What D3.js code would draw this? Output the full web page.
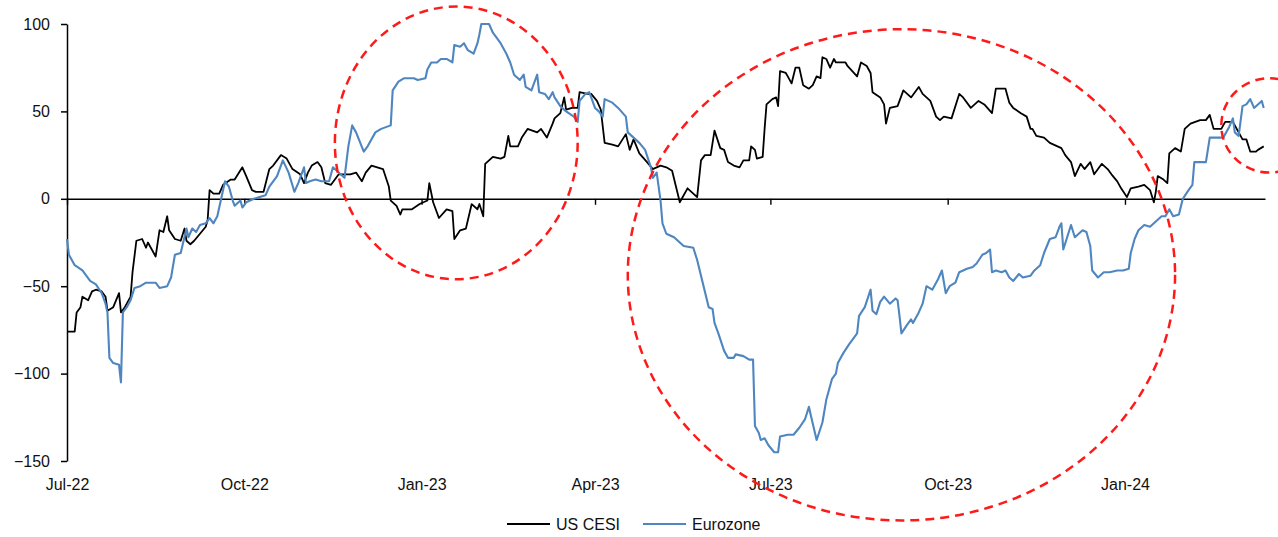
<!DOCTYPE html>
<html>
<head>
<meta charset="utf-8">
<script src="https://cdn.jsdelivr.net/npm/d3@7"></script>
<style>
  html, body { margin: 0; padding: 0; background: #fff; }
  svg { display: block; font-family: "Liberation Sans", Arial, sans-serif; }
</style>
</head>
<body>
<svg id="chart" width="1278" height="537"></svg>
<script>
// US CESI (black)
const usDates = ["2022-07-01","2022-07-05","2022-07-06","2022-07-08","2022-07-09","2022-07-12","2022-07-14","2022-07-16","2022-07-19","2022-07-21","2022-07-22","2022-07-25","2022-07-28","2022-07-29","2022-07-31","2022-08-03","2022-08-04","2022-08-06","2022-08-09","2022-08-11","2022-08-12","2022-08-16","2022-08-18","2022-08-20","2022-08-22","2022-08-23","2022-08-26","2022-08-29","2022-08-31","2022-09-01","2022-09-03","2022-09-05","2022-09-08","2022-09-11","2022-09-12","2022-09-13","2022-09-15","2022-09-18","2022-09-20","2022-09-24","2022-09-26","2022-09-30","2022-10-02","2022-10-05","2022-10-07","2022-10-11","2022-10-14","2022-10-16","2022-10-20","2022-10-23","2022-10-26","2022-10-30","2022-11-01","2022-11-03","2022-11-05","2022-11-08","2022-11-10","2022-11-12","2022-11-15","2022-11-19","2022-11-21","2022-11-25","2022-11-28","2022-12-01","2022-12-03","2022-12-06","2022-12-09","2022-12-12","2022-12-15","2022-12-16","2022-12-19","2022-12-21","2022-12-22","2022-12-27","2022-12-31","2023-01-04","2023-01-05","2023-01-07","2023-01-10","2023-01-14","2023-01-17","2023-01-18","2023-01-21","2023-01-24","2023-01-27","2023-01-30","2023-01-31","2023-02-02","2023-02-03","2023-02-07","2023-02-11","2023-02-13","2023-02-15","2023-02-16","2023-02-20","2023-02-22","2023-02-25","2023-03-02","2023-03-04","2023-03-07","2023-03-10","2023-03-11","2023-03-14","2023-03-16","2023-03-17","2023-03-20","2023-03-23","2023-03-24","2023-03-28","2023-03-30","2023-04-02","2023-04-04","2023-04-06","2023-04-10","2023-04-13","2023-04-17","2023-04-19","2023-04-21","2023-04-24","2023-04-28","2023-05-01","2023-05-05","2023-05-08","2023-05-11","2023-05-13","2023-05-15","2023-05-19","2023-05-21","2023-05-24","2023-05-26","2023-05-28","2023-05-31","2023-06-02","2023-06-05","2023-06-07","2023-06-09","2023-06-12","2023-06-15","2023-06-17","2023-06-20","2023-06-21","2023-06-23","2023-06-24","2023-06-27","2023-06-28","2023-06-29","2023-07-02","2023-07-04","2023-07-05","2023-07-06","2023-07-09","2023-07-10","2023-07-12","2023-07-14","2023-07-16","2023-07-18","2023-07-21","2023-07-23","2023-07-25","2023-07-27","2023-07-28","2023-07-30","2023-08-01","2023-08-03","2023-08-04","2023-08-09","2023-08-10","2023-08-15","2023-08-17","2023-08-20","2023-08-22","2023-08-23","2023-08-27","2023-08-29","2023-08-30","2023-09-01","2023-09-05","2023-09-08","2023-09-12","2023-09-16","2023-09-18","2023-09-22","2023-09-25","2023-09-27","2023-09-29","2023-10-03","2023-10-07","2023-10-09","2023-10-13","2023-10-17","2023-10-20","2023-10-24","2023-10-26","2023-10-31","2023-11-02","2023-11-04","2023-11-08","2023-11-11","2023-11-13","2023-11-14","2023-11-16","2023-11-20","2023-11-23","2023-11-27","2023-11-29","2023-12-01","2023-12-04","2023-12-06","2023-12-09","2023-12-11","2023-12-14","2023-12-16","2023-12-18","2023-12-20","2023-12-23","2023-12-25","2023-12-28","2023-12-30","2024-01-02","2024-01-04","2024-01-08","2024-01-11","2024-01-14","2024-01-16","2024-01-17","2024-01-18","2024-01-21","2024-01-23","2024-01-24","2024-01-27","2024-01-30","2024-02-01","2024-02-04","2024-02-09","2024-02-12","2024-02-14","2024-02-16","2024-02-20","2024-02-22","2024-02-26","2024-02-28","2024-03-02","2024-03-04","2024-03-06","2024-03-09","2024-03-10","2024-03-13"];
const usCesi = [-76,-76,-65,-62,-56,-58,-53,-52,-53,-56,-64,-62,-54,-65,-62,-56,-42,-24,-23,-28,-25,-33,-18,-19,-10,-18,-23,-24,-17,-24,-26,-24,-20,-16,-12,5,3,3,8,11,11,18,13,5,4,4,17,19,25,23,17,14,9,15,19,21,18,9,8,14,14,14,15,10,15,19,18,17,7,-1,-4,-9,-6,-6,-3,-1,9,-2,-11,-6,-7,-23,-18,-17,-3,-6,-3,-10,20,24,23,24,36,30,30,35,40,38,40,35,43,46,49,58,51,52,52,61,60,60,56,51,32,31,30,37,28,34,26,21,17,19,18,16,7,-2,6,4,1,22,25,25,39,29,28,21,19,18,22,22,30,28,23,24,40,54,57,58,53,73,72,70,66,75,75,65,63,65,70,69,81,80,75,80,78,78,76,70,78,76,72,61,58,54,43,52,53,62,58,64,60,56,47,45,47,46,60,58,52,56,54,49,63,63,55,52,49,47,40,40,36,35,32,30,29,25,21,13,20,17,21,14,17,20,17,14,10,6,1,6,7,8,5,-2,4,13,11,9,26,29,27,40,43,45,45,48,40,40,44,44,40,34,34,27,27,28,30];

// Eurozone (blue)
const ezDates = ["2022-07-01","2022-07-02","2022-07-05","2022-07-09","2022-07-11","2022-07-13","2022-07-16","2022-07-19","2022-07-21","2022-07-22","2022-07-23","2022-07-25","2022-07-28","2022-07-29","2022-07-30","2022-08-01","2022-08-03","2022-08-05","2022-08-08","2022-08-11","2022-08-16","2022-08-18","2022-08-22","2022-08-24","2022-08-26","2022-08-29","2022-09-01","2022-09-02","2022-09-04","2022-09-06","2022-09-08","2022-09-11","2022-09-13","2022-09-15","2022-09-17","2022-09-18","2022-09-19","2022-09-21","2022-09-23","2022-09-25","2022-09-26","2022-09-29","2022-09-30","2022-10-02","2022-10-06","2022-10-09","2022-10-12","2022-10-14","2022-10-18","2022-10-21","2022-10-24","2022-10-27","2022-10-29","2022-11-01","2022-11-02","2022-11-04","2022-11-07","2022-11-10","2022-11-14","2022-11-16","2022-11-19","2022-11-22","2022-11-24","2022-11-26","2022-11-28","2022-12-02","2022-12-04","2022-12-08","2022-12-11","2022-12-16","2022-12-17","2022-12-20","2022-12-23","2022-12-28","2022-12-30","2023-01-03","2023-01-04","2023-01-06","2023-01-09","2023-01-11","2023-01-14","2023-01-17","2023-01-18","2023-01-21","2023-01-23","2023-01-25","2023-01-28","2023-01-30","2023-01-31","2023-02-01","2023-02-05","2023-02-07","2023-02-11","2023-02-14","2023-02-16","2023-02-18","2023-02-21","2023-02-23","2023-02-24","2023-02-27","2023-03-01","2023-03-02","2023-03-03","2023-03-06","2023-03-08","2023-03-10","2023-03-11","2023-03-14","2023-03-17","2023-03-21","2023-03-23","2023-03-24","2023-03-27","2023-03-29","2023-03-30","2023-04-01","2023-04-03","2023-04-05","2023-04-06","2023-04-10","2023-04-13","2023-04-17","2023-04-18","2023-04-21","2023-04-24","2023-04-27","2023-04-30","2023-05-01","2023-05-03","2023-05-05","2023-05-06","2023-05-08","2023-05-12","2023-05-15","2023-05-17","2023-05-22","2023-05-24","2023-05-26","2023-05-28","2023-05-30","2023-06-01","2023-06-02","2023-06-04","2023-06-07","2023-06-09","2023-06-12","2023-06-13","2023-06-17","2023-06-20","2023-06-22","2023-06-23","2023-06-25","2023-06-26","2023-06-28","2023-06-30","2023-07-03","2023-07-05","2023-07-06","2023-07-10","2023-07-13","2023-07-16","2023-07-19","2023-07-21","2023-07-22","2023-07-25","2023-07-28","2023-07-30","2023-08-02","2023-08-04","2023-08-05","2023-08-08","2023-08-11","2023-08-15","2023-08-16","2023-08-19","2023-08-22","2023-08-23","2023-08-25","2023-08-27","2023-08-29","2023-09-01","2023-09-04","2023-09-05","2023-09-06","2023-09-07","2023-09-10","2023-09-12","2023-09-13","2023-09-16","2023-09-18","2023-09-20","2023-09-23","2023-09-26","2023-09-28","2023-09-30","2023-10-02","2023-10-05","2023-10-07","2023-10-11","2023-10-14","2023-10-16","2023-10-19","2023-10-21","2023-10-23","2023-10-24","2023-10-26","2023-10-29","2023-10-31","2023-11-02","2023-11-04","2023-11-07","2023-11-09","2023-11-13","2023-11-15","2023-11-18","2023-11-20","2023-11-23","2023-11-26","2023-11-28","2023-11-29","2023-11-30","2023-12-02","2023-12-04","2023-12-06","2023-12-08","2023-12-10","2023-12-12","2023-12-14","2023-12-15","2023-12-18","2023-12-21","2023-12-24","2023-12-28","2023-12-31","2024-01-03","2024-01-04","2024-01-06","2024-01-08","2024-01-11","2024-01-14","2024-01-17","2024-01-20","2024-01-22","2024-01-24","2024-01-26","2024-01-29","2024-01-31","2024-02-03","2024-02-05","2024-02-06","2024-02-10","2024-02-12","2024-02-14","2024-02-18","2024-02-21","2024-02-24","2024-02-26","2024-02-27","2024-02-29","2024-03-02","2024-03-04","2024-03-06","2024-03-08","2024-03-09","2024-03-12","2024-03-13"];
const eurozone = [-23,-32,-38,-41,-44,-47,-49,-54,-60,-65,-91,-94,-95,-105,-65,-62,-58,-51,-50,-48,-48,-51,-50,-45,-32,-31,-17,-22,-17,-19,-15,-14,-11,-14,-10,-5,0,10,7,-1,-4,-1,-5,-2,0,1,2,7,13,22,15,4,9,18,9,10,11,10,10,18,15,12,30,42,38,27,30,38,40,42,62,67,69,69,68,69,74,78,78,80,80,78,88,87,89,85,83,89,94,100,100,95,89,83,78,71,68,71,64,62,68,71,61,60,57,61,58,53,50,47,44,56,60,61,58,52,50,47,57,55,52,47,38,35,32,28,18,12,15,-1,-14,-20,-22,-25,-27,-28,-35,-44,-53,-62,-63,-71,-77,-87,-91,-91,-89,-90,-92,-92,-130,-134,-138,-137,-141,-145,-145,-136,-135,-135,-131,-126,-119,-124,-138,-128,-115,-103,-100,-94,-88,-83,-77,-67,-62,-52,-64,-66,-59,-56,-60,-57,-58,-67,-77,-72,-69,-71,-65,-60,-50,-52,-46,-41,-54,-50,-48,-42,-40,-39,-37,-32,-31,-29,-42,-41,-42,-41,-45,-47,-43,-45,-44,-41,-38,-31,-23,-22,-16,-14,-29,-22,-15,-22,-20,-18,-19,-27,-41,-45,-42,-42,-41,-41,-40,-31,-23,-18,-15,-16,-13,-10,-10,-6,-10,-9,0,5,8,21,21,21,35,35,35,41,46,38,36,53,54,57,52,53,56,52];

const seriesNames = ["US CESI", "Eurozone"];
const seriesColors = ["#000000", "#4f86c0"];
const xTickDates = ["2022-07-01","2022-10-01","2023-01-01","2023-04-01","2023-07-01","2023-10-01","2024-01-01"];
const yTicks = [-150, -100, -50, 0, 50, 100];

// highlight ellipses: [left date, right date, top value, bottom value]
const highlights = [
  ["2022-11-17", "2023-03-23", 110, -46],
  ["2023-04-18", "2024-01-27", 97, -184],
  ["2024-02-20", "2024-04-10", 69, 15],
];

const parse = d3.timeParse("%Y-%m-%d");
const fmt = d3.timeFormat("%b-%y");

const svg = d3.select("#chart");
const x = d3.scaleTime()
  .domain([parse("2022-07-01"), new Date(2024, 2, 13, 16)])
  .range([67, 1265]);
const y = d3.scaleLinear().domain([-150, 100]).range([461, 24]);

// y axis
const yAxis = svg.append("g")
  .attr("transform", `translate(${x.range()[0]},0)`)
  .call(d3.axisLeft(y).tickValues(yTicks).tickSize(6).tickSizeOuter(0).tickPadding(11));
yAxis.select(".domain").attr("stroke", "#000").attr("stroke-width", 1.5);
yAxis.selectAll(".tick line").attr("stroke", "#000").attr("stroke-width", 1.5);
yAxis.selectAll("text").attr("font-size", 16).attr("fill", "#111")
  .attr("font-family", "'Liberation Sans', Arial, sans-serif");

// zero line with quarter ticks
const zeroAxis = svg.append("g")
  .attr("transform", `translate(0,${y(0)})`)
  .call(d3.axisBottom(x).tickValues(xTickDates.map(parse)).tickSize(6).tickSizeOuter(0).tickFormat(""));
zeroAxis.select(".domain").attr("stroke", "#000").attr("stroke-width", 1.4);
zeroAxis.selectAll(".tick line").attr("stroke", "#000").attr("stroke-width", 1.4);

// date labels at the bottom
const labelAxis = svg.append("g")
  .attr("transform", "translate(0,476)")
  .call(d3.axisBottom(x).tickValues(xTickDates.map(parse)).tickSize(0).tickPadding(3).tickFormat(fmt));
labelAxis.select(".domain").remove();
labelAxis.selectAll("text").attr("font-size", 16).attr("fill", "#111")
  .attr("font-family", "'Liberation Sans', Arial, sans-serif");

// series lines
const series = [
  { name: seriesNames[0], color: seriesColors[0], width: 1.8, data: usDates.map((d, i) => ({ date: parse(d), value: usCesi[i] })) },
  { name: seriesNames[1], color: seriesColors[1], width: 2.1, data: ezDates.map((d, i) => ({ date: parse(d), value: eurozone[i] })) },
];

const line = d3.line().x((d) => x(d.date)).y((d) => y(d.value));

svg.append("g").selectAll("path").data(series).enter().append("path")
  .attr("d", (s) => line(s.data))
  .attr("fill", "none")
  .attr("stroke", (s) => s.color)
  .attr("stroke-width", (s) => s.width)
  .attr("stroke-linejoin", "round");

// red dashed ellipses
svg.append("g").selectAll("ellipse").data(highlights).enter().append("ellipse")
  .attr("cx", (h) => (x(parse(h[0])) + x(parse(h[1]))) / 2)
  .attr("cy", (h) => (y(h[2]) + y(h[3])) / 2)
  .attr("rx", (h) => (x(parse(h[1])) - x(parse(h[0]))) / 2)
  .attr("ry", (h) => (y(h[3]) - y(h[2])) / 2)
  .attr("fill", "none")
  .attr("stroke", "#ff1a1a")
  .attr("stroke-width", 2.5)
  .attr("stroke-dasharray", "9,6");

// legend
const legend = svg.append("g").attr("transform", "translate(507,524)");
const items = legend.selectAll("g").data(series).enter().append("g")
  .attr("transform", (d, i) => `translate(${i * 136},0)`);
items.append("line")
  .attr("x1", 0).attr("x2", 43).attr("y1", 0).attr("y2", 0)
  .attr("stroke", (d) => d.color).attr("stroke-width", 2);
items.append("text")
  .attr("x", 49).attr("y", 6)
  .attr("font-size", 16).attr("fill", "#111")
  .text((d) => d.name);
</script>
</body>
</html>
